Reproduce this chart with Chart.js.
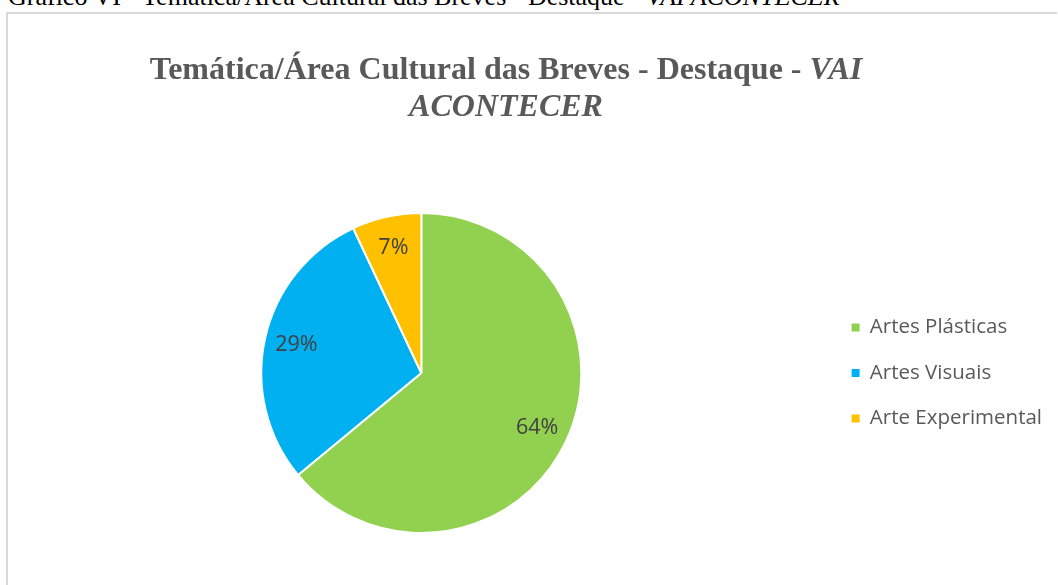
<!DOCTYPE html>
<html lang="pt">
<head>
<meta charset="utf-8">
<title>Temática/Área Cultural das Breves - Destaque - VAI ACONTECER</title>
<script src="https://cdn.jsdelivr.net/npm/chart.js@4/dist/chart.umd.min.js"></script>
<style>
    html, body {
        margin: 0;
        padding: 0;
        width: 1058px;
        height: 585px;
        overflow: hidden;
        background: #fff;
    }
    .caption {
        position: absolute;
        left: 8px;
        top: -16px;
        font-family: "Liberation Serif", "Times New Roman", serif;
        font-size: 26px;
        line-height: 1;
        color: #000;
        white-space: nowrap;
    }
    .frame {
        position: absolute;
        left: 6px;
        top: 12px;
        width: 1051px;
        height: 600px;
        border-left: 2px solid #d9d9d9;
        border-top: 2px solid #d9d9d9;
        box-sizing: border-box;
    }
    .chart-title {
        position: absolute;
        left: 106px;
        top: 50px;
        width: 800px;
        text-align: center;
        font-family: "Liberation Serif", "Times New Roman", serif;
        font-weight: bold;
        font-size: 32px;
        line-height: 1.15;
        color: #595959;
    }
    #pieChart {
        position: absolute;
        left: 0;
        top: 0;
    }
</style>
</head>
<body>
<div class="caption">Gráfico VI - Temática/Área Cultural das Breves - Destaque - <i>VAI ACONTECER</i></div>
<div class="frame"></div>
<canvas id="pieChart" width="1052" height="585"></canvas>
<div class="chart-title">Temática/Área Cultural das Breves - Destaque - <i>VAI</i><br><i>ACONTECER</i></div>

<script>
// values (percent of the total)
const categories = ['Artes Plásticas', 'Artes Visuais', 'Arte Experimental'];
const shares = [64, 29, 7];

// percent labels inside each slice
const sliceLabels = {
    id: 'sliceLabels',
    afterDatasetsDraw(chart) {
        const ctx = chart.ctx;
        const meta = chart.getDatasetMeta(0);
        ctx.save();
        ctx.font = '21.5px "Open Sans"';
        ctx.fillStyle = '#404040';
        ctx.textAlign = 'center';
        ctx.textBaseline = 'middle';
        meta.data.forEach((arc, i) => {
            const p = arc.getProps(['x', 'y', 'startAngle', 'endAngle', 'outerRadius'], true);
            const mid = (p.startAngle + p.endAngle) / 2;
            const r = p.outerRadius * 0.8;
            ctx.fillText(shares[i] + '%', p.x + Math.cos(mid) * r, p.y + Math.sin(mid) * r);
        });
        ctx.restore();
    }
};

document.addEventListener('DOMContentLoaded', () => {
    const baseLabels = (Chart.overrides.pie || Chart.overrides.doughnut).plugins.legend.labels.generateLabels;
    const ctx = document.getElementById('pieChart').getContext('2d');

    new Chart(ctx, {
        type: 'pie',
        data: {
            labels: categories,
            datasets: [{
                data: shares,
                backgroundColor: ['#92d050', '#00b0f0', '#ffc000'],
                borderColor: '#ffffff',
                borderWidth: 2
            }]
        },
        options: {
            responsive: false,
            animation: false,
            layout: {
                padding: { left: 16, top: 212, bottom: 51, right: 0 }
            },
            plugins: {
                tooltip: { enabled: false },
                legend: {
                    position: 'right',
                    align: 'center',
                    labels: {
                        boxWidth: 8,
                        boxHeight: 8,
                        padding: 25,
                        color: '#595959',
                        font: { family: 'Open Sans', size: 20.5 },
                        // no white outline round the legend squares
                        generateLabels: chart => baseLabels(chart).map(item => ({ ...item, lineWidth: 0 }))
                    }
                }
            }
        },
        plugins: [sliceLabels]
    });
});
</script>
</body>
</html>
